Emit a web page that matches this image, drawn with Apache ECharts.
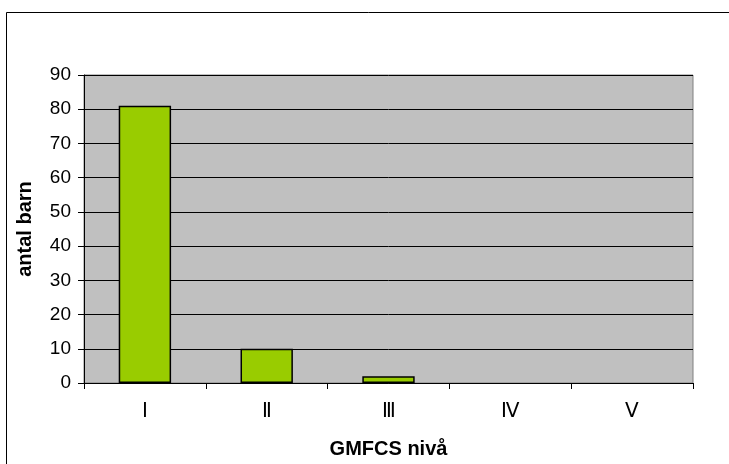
<!DOCTYPE html>
<html>
<head>
<meta charset="utf-8">
<script src="https://cdn.jsdelivr.net/npm/echarts@6/dist/echarts.min.js"></script>
<style>
  html, body { margin: 0; padding: 0; background: #ffffff; }
  #chart { width: 729px; height: 464px; }
</style>
</head>
<body>
<div id="chart"></div>
<script>
// GMFCS levels and number of children at each level
const levels = ['Ⅰ', 'Ⅱ', 'Ⅲ', 'Ⅳ', 'Ⅴ'];
const childCounts = [81, 10, 2, 0, 0];
const yTicks = { min: 0, max: 90, step: 10 };

const chart = echarts.init(document.getElementById('chart'), null, { renderer: 'canvas' });

const font = 'Arial, "Liberation Sans", sans-serif';

// empty levels get no outline so nothing shows on the baseline
const barData = childCounts.map(v => ({
  value: v,
  itemStyle: v === 0 ? { borderWidth: 0, opacity: 0 } : {}
}));

chart.setOption({
  backgroundColor: '#ffffff',
  animation: false,
  graphic: [{
    type: 'rect',
    shape: { x: 6.5, y: 12.5, width: 760, height: 500 },
    style: { fill: 'none', stroke: '#000000', lineWidth: 1 },
    silent: true
  }],
  grid: {
    left: 84, right: 36, top: 75, bottom: 81,
    show: true,
    backgroundColor: '#c0c0c0',
    borderColor: '#808080',
    borderWidth: 1
  },
  xAxis: {
    type: 'category',
    data: levels,
    name: 'GMFCS nivå',
    nameLocation: 'middle',
    nameGap: 56,
    nameTextStyle: { fontFamily: font, fontSize: 20, fontWeight: 'bold', color: '#000' },
    axisLine: { show: true, lineStyle: { color: '#000', width: 1 } },
    axisTick: { show: true, length: 6, lineStyle: { color: '#000' } },
    axisLabel: { fontFamily: font, fontSize: 20, color: '#000', margin: 18 },
    splitLine: { show: false }
  },
  yAxis: {
    type: 'value',
    min: yTicks.min, max: yTicks.max, interval: yTicks.step,
    name: 'antal barn',
    nameLocation: 'middle',
    nameGap: 49,
    nameRotate: 90,
    nameTextStyle: { fontFamily: font, fontSize: 20, fontWeight: 'bold', color: '#000' },
    axisLine: { show: true, lineStyle: { color: '#000', width: 1 } },
    axisTick: { show: true, length: 6, lineStyle: { color: '#000' } },
    axisLabel: { fontFamily: font, fontSize: 19, color: '#000', margin: 13 },
    splitLine: { show: true, lineStyle: { color: '#000', width: 1 } }
  },
  series: [{
    type: 'bar',
    data: barData,
    barWidth: '43%',
    itemStyle: { color: '#99cc00', borderColor: '#000', borderWidth: 1.5 }
  }]
});
</script>
</body>
</html>
